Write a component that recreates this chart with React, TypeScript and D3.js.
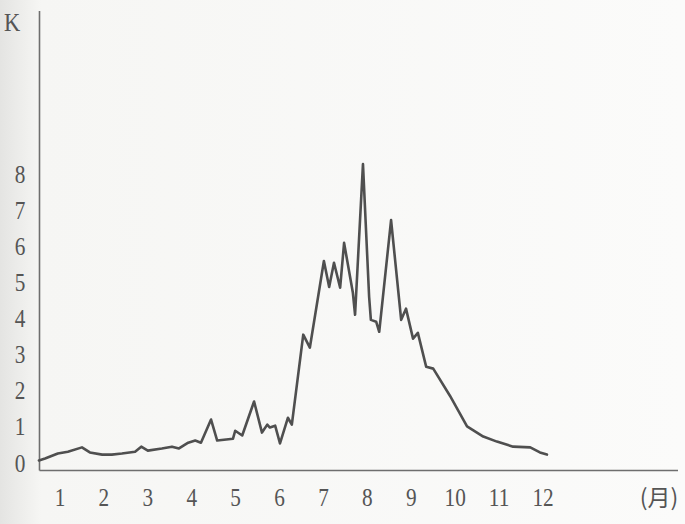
import { useEffect, useRef } from 'react';
import * as d3 from 'd3';

// position along the year (1 = middle of January) and K value
const months = [
  0.52, 0.66, 0.95, 1.18, 1.5, 1.68, 1.96, 2.18, 2.41, 2.71, 2.85, 3.0, 3.32, 3.55, 3.71, 3.92,
  4.08, 4.21, 4.44, 4.58, 4.94, 4.99, 5.15, 5.42, 5.6, 5.72, 5.78, 5.9, 6.01, 6.19, 6.28, 6.54,
  6.69, 7.01, 7.13, 7.24, 7.38, 7.47, 7.67, 7.72, 7.9, 8.04, 8.08, 8.2, 8.27, 8.54, 8.77, 8.88,
  9.04, 9.15, 9.34, 9.5, 9.88, 10.27, 10.64, 10.95, 11.32, 11.71, 11.93, 12.09,
];
const kValues = [
  0.28, 0.33, 0.47, 0.52, 0.64, 0.5, 0.44, 0.44, 0.47, 0.52, 0.66, 0.55, 0.61, 0.66, 0.61, 0.77,
  0.83, 0.77, 1.41, 0.83, 0.88, 1.1, 0.97, 1.91, 1.05, 1.27, 1.19, 1.24, 0.75, 1.46, 1.27, 3.76,
  3.4, 5.8, 5.08, 5.75, 5.06, 6.3, 4.92, 4.31, 8.48, 4.81, 4.17, 4.12, 3.84, 6.93, 4.17, 4.48,
  3.65, 3.81, 2.87, 2.82, 2.07, 1.22, 0.94, 0.8, 0.66, 0.64, 0.5, 0.44,
];
const monthTicks = [1, 2, 3, 4, 5, 6, 7, 8, 9, 10, 11, 12];
const kTicks = [0, 1, 2, 3, 4, 5, 6, 7, 8];

function App() {
  const svgRef = useRef<SVGSVGElement | null>(null);
  const width = 685;
  const height = 524;

  useEffect(() => {
    const svg = d3.select(svgRef.current);
    svg.selectAll('*').remove();

    const x = d3.scaleLinear().domain([1, 12]).range([60, 543]);
    const y = d3.scaleLinear().domain([0, 8]).range([470.5, 181.5]);

    const grad = svg
      .append('defs')
      .append('linearGradient')
      .attr('id', 'paper')
      .attr('x1', 0)
      .attr('x2', 1);
    grad.append('stop').attr('offset', '0').attr('stop-color', '#e4e4e2');
    grad.append('stop').attr('offset', '0.06').attr('stop-color', '#f6f6f4');
    grad.append('stop').attr('offset', '1').attr('stop-color', '#fbfbfa');

    svg.append('rect').attr('width', width).attr('height', height).attr('fill', 'url(#paper)');

    const axisColor = '#6e6e6e';
    const textColor = '#555';
    const font = "'Liberation Serif', 'DejaVu Serif', serif";

    // axes
    svg
      .append('line')
      .attr('x1', 39.5)
      .attr('x2', 39.5)
      .attr('y1', 11)
      .attr('y2', y(0))
      .attr('stroke', axisColor)
      .attr('stroke-width', 1.6);
    svg
      .append('line')
      .attr('x1', 39.5)
      .attr('x2', 678)
      .attr('y1', y(0))
      .attr('y2', y(0))
      .attr('stroke', axisColor)
      .attr('stroke-width', 1.6);

    // y tick labels (baseline sits on the tick)
    svg
      .append('g')
      .selectAll('text')
      .data(kTicks)
      .enter()
      .append('text')
      .attr('transform', (d) => `translate(20,${y(d) + 1}) scale(0.85,1)`)
      .attr('text-anchor', 'middle')
      .attr('font-family', font)
      .attr('font-size', 25)
      .attr('fill', textColor)
      .text((d) => d);

    // x tick labels
    svg
      .append('g')
      .selectAll('text')
      .data(monthTicks)
      .enter()
      .append('text')
      .attr('transform', (d) => `translate(${x(d)},506) scale(0.85,1)`)
      .attr('text-anchor', 'middle')
      .attr('font-family', font)
      .attr('font-size', 25)
      .attr('fill', textColor)
      .text((d) => d);

    svg
      .append('text')
      .attr('transform', 'translate(12,31) scale(0.9,1)')
      .attr('text-anchor', 'middle')
      .attr('font-family', font)
      .attr('font-size', 25)
      .attr('fill', textColor)
      .text('K');

    svg
      .append('text')
      .attr('x', 659)
      .attr('y', 506)
      .attr('text-anchor', 'middle')
      .attr('font-family', "'Noto Sans CJK JP', 'Liberation Serif', serif")
      .attr('font-size', 23)
      .attr('fill', textColor)
      .text('(月)');

    const line = d3
      .line<number>()
      .x((_, i) => x(months[i]))
      .y((d) => y(d))
      .curve(d3.curveLinear);

    svg
      .append('path')
      .datum(kValues)
      .attr('d', line)
      .attr('fill', 'none')
      .attr('stroke', '#4f4f4f')
      .attr('stroke-width', 2.6)
      .attr('stroke-linejoin', 'round')
      .attr('stroke-linecap', 'round');
  }, []);

  return (
    <svg
      ref={svgRef}
      width={width}
      height={height}
      style={{ position: 'absolute', left: 0, top: 0 }}
    />
  );
}

export default App;
